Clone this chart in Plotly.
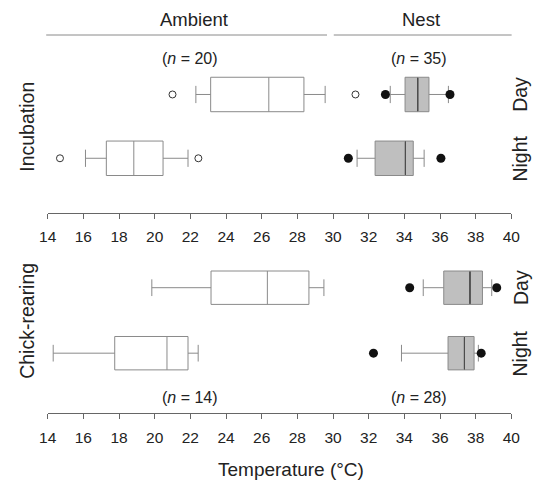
import plotly.graph_objects as go

# ---------------- data (°C) ----------------
ticks = list(range(14, 41, 2))
rows = ["Day", "Night"]

# Incubation – ambient
inc_amb_low = [22.31, 16.12]
inc_amb_q1 = [23.14, 17.29]
inc_amb_med = [26.40, 18.83]
inc_amb_q3 = [28.37, 20.47]
inc_amb_high = [29.56, 21.87]
# Incubation – nest
inc_nest_low = [33.21, 31.35]
inc_nest_q1 = [34.04, 32.36]
inc_nest_med = [34.75, 34.06]
inc_nest_q3 = [35.38, 34.50]
inc_nest_high = [36.47, 35.11]
# Chick-rearing – ambient
chk_amb_low = [19.84, 14.31]
chk_amb_q1 = [23.16, 17.76]
chk_amb_med = [26.32, 20.69]
chk_amb_q3 = [28.65, 21.87]
chk_amb_high = [29.49, 22.44]
# Chick-rearing – nest
chk_nest_low = [35.06, 33.84]
chk_nest_q1 = [36.21, 36.45]
chk_nest_med = [37.68, 37.37]
chk_nest_q3 = [38.38, 37.91]
chk_nest_high = [38.90, 38.15]

# individual points
inc_open_x = [21.00, 14.69, 22.45, 31.26]
inc_open_row = ["Day", "Night", "Night", "Day"]
inc_filled_x = [32.94, 36.56, 30.86, 36.05]
inc_filled_row = ["Day", "Day", "Night", "Night"]
chk_filled_x = [34.30, 39.18, 32.27, 38.31]
chk_filled_row = ["Day", "Day", "Night", "Night"]

n_labels_top = ["(<i>n</i> = 20)", "(<i>n</i> = 35)"]
n_labels_bottom = ["(<i>n</i> = 14)", "(<i>n</i> = 28)"]

# ---------------- style ----------------
W, H = 539, 484
FONT = "Liberation Sans, Arial, Helvetica, sans-serif"
TXT = "#222222"
LINE = "#8a8a8a"
MED_DARK = "#4d4d4d"
AXC = "#666666"
NEST_FILL = "#bfbfbf"

def px_x(p):
    return p / W

def px_y(p):
    return 1 - p / H

fig = go.Figure()

def add_box(low, q1, med, q3, high, fill, xa, ya, width):
    fig.add_trace(go.Box(
        y=rows, lowerfence=low, q1=q1, median=med, q3=q3, upperfence=high,
        orientation="h", boxpoints=False, fillcolor=fill,
        line=dict(color=LINE, width=1), whiskerwidth=0.5, width=width,
        xaxis=xa, yaxis=ya, hoverinfo="skip"))

def add_median(med, xa, ya, width):
    # degenerate box drawn only at the median, to give it a darker stroke
    fig.add_trace(go.Box(
        y=rows, lowerfence=med, q1=med, median=med, q3=med, upperfence=med,
        orientation="h", boxpoints=False, fillcolor="rgba(0,0,0,0)",
        line=dict(color=MED_DARK, width=1), whiskerwidth=0, width=width,
        xaxis=xa, yaxis=ya, hoverinfo="skip"))

add_box(inc_amb_low, inc_amb_q1, inc_amb_med, inc_amb_q3, inc_amb_high, "white", "x", "y", 0.54)
add_box(inc_nest_low, inc_nest_q1, inc_nest_med, inc_nest_q3, inc_nest_high, NEST_FILL, "x", "y", 0.54)
add_median(inc_nest_med, "x", "y", 0.52)
add_box(chk_amb_low, chk_amb_q1, chk_amb_med, chk_amb_q3, chk_amb_high, "white", "x2", "y2", 0.51)
add_box(chk_nest_low, chk_nest_q1, chk_nest_med, chk_nest_q3, chk_nest_high, NEST_FILL, "x2", "y2", 0.51)
add_median(chk_nest_med, "x2", "y2", 0.49)

fig.add_trace(go.Scatter(x=inc_open_x, y=inc_open_row, mode="markers", xaxis="x", yaxis="y",
                         marker=dict(symbol="circle-open", size=7, color="#333333", line=dict(width=1)),
                         cliponaxis=False, hoverinfo="skip"))
fig.add_trace(go.Scatter(x=inc_filled_x, y=inc_filled_row, mode="markers", xaxis="x", yaxis="y",
                         marker=dict(symbol="circle", size=9, color="#111111"),
                         cliponaxis=False, hoverinfo="skip"))
fig.add_trace(go.Scatter(x=chk_filled_x, y=chk_filled_row, mode="markers", xaxis="x2", yaxis="y2",
                         marker=dict(symbol="circle", size=9, color="#111111"),
                         cliponaxis=False, hoverinfo="skip"))

xdom = [px_x(40), px_x(519.7)]
xax = dict(domain=xdom, range=[14, 40], showline=True, linecolor=AXC, linewidth=1,
           ticks="outside", ticklen=5, tickwidth=1, tickcolor=AXC, tickvals=ticks,
           showgrid=False, zeroline=False, tickfont=dict(size=15.5, color=TXT, family=FONT),
           ticklabelstandoff=5, fixedrange=True)
yax = dict(type="category", categoryarray=["Night", "Day"], visible=False,
           showgrid=False, zeroline=False, fixedrange=True)

fig.update_layout(
    width=W, height=H, margin=dict(l=0, r=0, t=0, b=0),
    paper_bgcolor="white", plot_bgcolor="white", showlegend=False,
    font=dict(family=FONT, color=TXT),
    xaxis=dict(**xax, anchor="y"),
    xaxis2=dict(**xax, anchor="y2"),
    yaxis=dict(**yax, domain=[px_y(212.7), px_y(40)], range=[-0.853, 1.854]),
    yaxis2=dict(**yax, domain=[px_y(413.3), px_y(260)], range=[-0.918, 1.423]),
)

ann = []
def text(x, y, t, size, xref="paper", yref="paper", angle=0):
    ann.append(dict(x=x, y=y, xref=xref, yref=yref, text=t, showarrow=False,
                    xanchor="center", yanchor="middle", textangle=angle,
                    font=dict(size=size, family=FONT, color=TXT)))

text(px_x(191), px_y(19), "Ambient", 18.5)
text(px_x(426), px_y(19), "Nest", 18.5)
text(px_x(187), px_y(58.4), n_labels_top[0], 16)
text(px_x(424), px_y(58.4), n_labels_top[1], 16)
text(px_x(187), px_y(397), n_labels_bottom[0], 16)
text(px_x(424), px_y(397), n_labels_bottom[1], 16)
text(px_x(292), px_y(469), "Temperature (°C)", 19)
text(px_x(19), 0.5, "Incubation", 19.5, yref="y", angle=-90)
text(px_x(19), 0.5, "Chick-rearing", 19.5, yref="y2", angle=-90)
for r in rows:
    text(px_x(529), r, r, 19.5, yref="y", angle=-90)
    text(px_x(529), r, r, 19.5, yref="y2", angle=-90)
fig.update_layout(annotations=ann)

fig.update_layout(shapes=[
    dict(type="line", xref="paper", yref="paper", x0=px_x(38.5), x1=px_x(329),
         y0=px_y(35), y1=px_y(35), line=dict(color=LINE, width=1)),
    dict(type="line", xref="paper", yref="paper", x0=px_x(336), x1=px_x(520),
         y0=px_y(35), y1=px_y(35), line=dict(color=LINE, width=1)),
])

# remove the browser's default 8px page margin so the 539x484 figure fills the window
fig.write_html("out.html", config={"displayModeBar": False, "staticPlot": True},
               post_script="document.body.style.margin='0';document.body.style.overflow='hidden';")
